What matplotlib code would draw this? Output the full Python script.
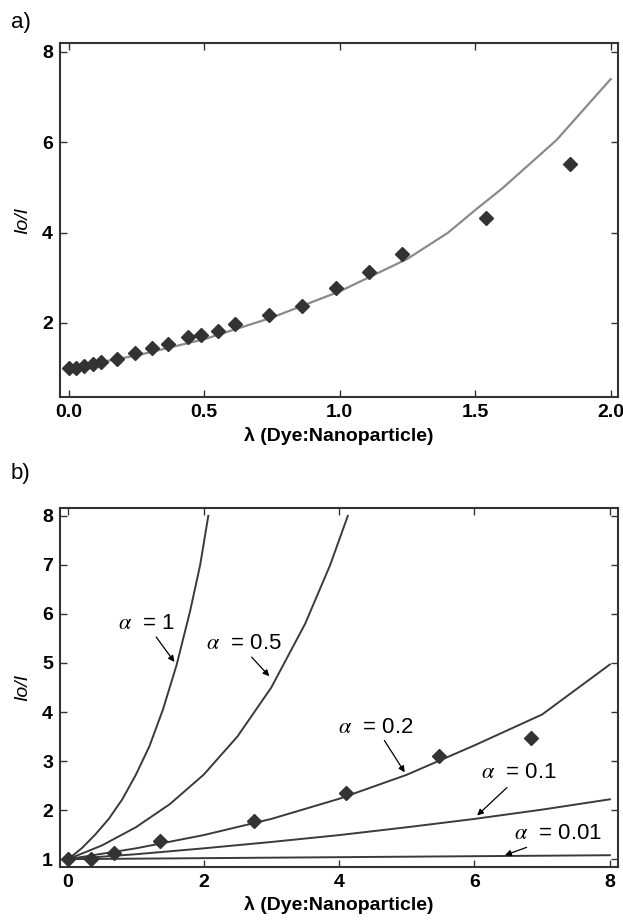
import matplotlib
import matplotlib.pyplot as plt

matplotlib.use('Agg')
plt.rcParams['font.family'] = ['Liberation Sans', 'DejaVu Sans']
plt.rcParams['mathtext.fontset'] = 'stix'

# panel a) measured points and fitted curve
lam_a = [0.0, 0.027, 0.058, 0.09, 0.12, 0.18, 0.245, 0.306, 0.368, 0.44, 0.49,
         0.552, 0.615, 0.74, 0.862, 0.986, 1.108, 1.231, 1.541, 1.849]
ratio_a = [1.0, 1.01, 1.05, 1.09, 1.13, 1.2, 1.33, 1.44, 1.53, 1.70, 1.73,
           1.83, 1.98, 2.18, 2.37, 2.78, 3.13, 3.52, 4.33, 5.52]
fit_x_a = [0, 0.25, 0.5, 0.75, 1.0, 1.25, 1.4, 1.5, 1.6, 1.8, 2.0]
fit_y_a = [1.0, 1.28, 1.64, 2.12, 2.7, 3.42, 4.0, 4.5, 4.98, 6.05, 7.4]

# panel b) measured points and model curves for several alpha
lam_b = [0, 0.34, 0.68, 1.36, 2.74, 4.1, 5.47, 6.84]
ratio_b = [1.0, 1.01, 1.12, 1.37, 1.78, 2.34, 3.11, 3.47]
curves_b = {
    '1':    ([0, 0.2, 0.4, 0.6, 0.8, 1.0, 1.2, 1.4, 1.6, 1.8, 1.95, 2.07],
             [1, 1.22, 1.5, 1.82, 2.22, 2.72, 3.3, 4.05, 4.95, 6.05, 7.0, 8.0]),
    '0.5':  ([0, 0.5, 1.0, 1.5, 2.0, 2.5, 3.0, 3.5, 3.87, 4.13],
             [1, 1.28, 1.65, 2.12, 2.72, 3.5, 4.5, 5.8, 7.0, 8.0]),
    '0.2':  ([0, 1, 2, 3, 4, 5, 6, 7, 8],
             [1, 1.22, 1.49, 1.82, 2.23, 2.72, 3.32, 3.95, 4.97]),
    '0.1':  ([0, 1, 2, 3, 4, 5, 6, 7, 8],
             [1, 1.1, 1.22, 1.35, 1.49, 1.65, 1.82, 2.01, 2.22]),
    '0.01': ([0, 8], [1, 1.08]),
}
# label text position, arrow tail, arrow tip
labels_b = {
    '1':    ((1.16, 5.8), (1.3, 5.53), (1.57, 5.02)),
    '0.5':  ((2.59, 5.4), (2.71, 5.12), (2.97, 4.73)),
    '0.2':  ((4.55, 3.69), (4.67, 3.42), (4.97, 2.77)),
    '0.1':  ((6.65, 2.77), (6.48, 2.46), (6.04, 1.89)),
    '0.01': ((7.24, 1.52), (6.77, 1.24), (6.45, 1.08)),
}

fig = plt.figure(figsize=(6.23, 9.24), dpi=100)
ax1 = fig.add_axes([0.0963, 0.5703, 0.8957, 0.3832])
ax2 = fig.add_axes([0.0963, 0.0617, 0.8957, 0.3885])


def style(ax):
    for s in ax.spines.values():
        s.set_color('#333333')
        s.set_linewidth(1.5)
    ax.tick_params(direction='in', top=True, right=True, length=5, width=1,
                   color='#333333', labelsize=14, pad=5)
    for lab in ax.get_xticklabels() + ax.get_yticklabels():
        lab.set_fontweight('bold')
    ax.set_xlabel('λ (Dye:Nanoparticle)', fontsize=14, fontweight='bold', labelpad=4)
    ax.set_ylabel('Io/I', fontsize=14, fontstyle='italic', labelpad=8)


ax1.plot(fit_x_a, fit_y_a, color='#8a8a8a', lw=1.6, zorder=1)
ax1.plot(lam_a, ratio_a, 'D', color='#333333', ms=7.5, zorder=2)
ax1.set_xlim(-0.032, 2.027)
ax1.set_ylim(0.36, 8.2)
ax1.set_xticks([0, 0.5, 1.0, 1.5, 2.0])
ax1.set_xticklabels(['0.0', '0.5', '1.0', '1.5', '2.0'])
ax1.set_yticks([2, 4, 6, 8])
style(ax1)

for key, (cx, cy) in curves_b.items():
    ax2.plot(cx, cy, color='#3a3a3a', lw=1.4, zorder=1)
    (tx, ty), tail, tip = labels_b[key]
    ax2.text(tx, ty, r'$\alpha$  = ' + key, fontsize=16, ha='center', va='center')
    ax2.annotate('', xy=tip, xytext=tail,
                 arrowprops=dict(arrowstyle='-|>', color='black', lw=0.9,
                                 mutation_scale=9, shrinkA=0, shrinkB=0))
ax2.plot(lam_b, ratio_b, 'D', color='#333333', ms=7.5, zorder=2)
ax2.set_xlim(-0.12, 8.12)
ax2.set_ylim(0.84, 8.16)
ax2.set_xticks([0, 2, 4, 6, 8])
ax2.set_yticks([1, 2, 3, 4, 5, 6, 7, 8])
style(ax2)

fig.text(0.017, 0.976, 'a)', fontsize=16, va='center')
fig.text(0.017, 0.488, 'b)', fontsize=16, va='center')

fig.savefig('out.png', dpi=100)
